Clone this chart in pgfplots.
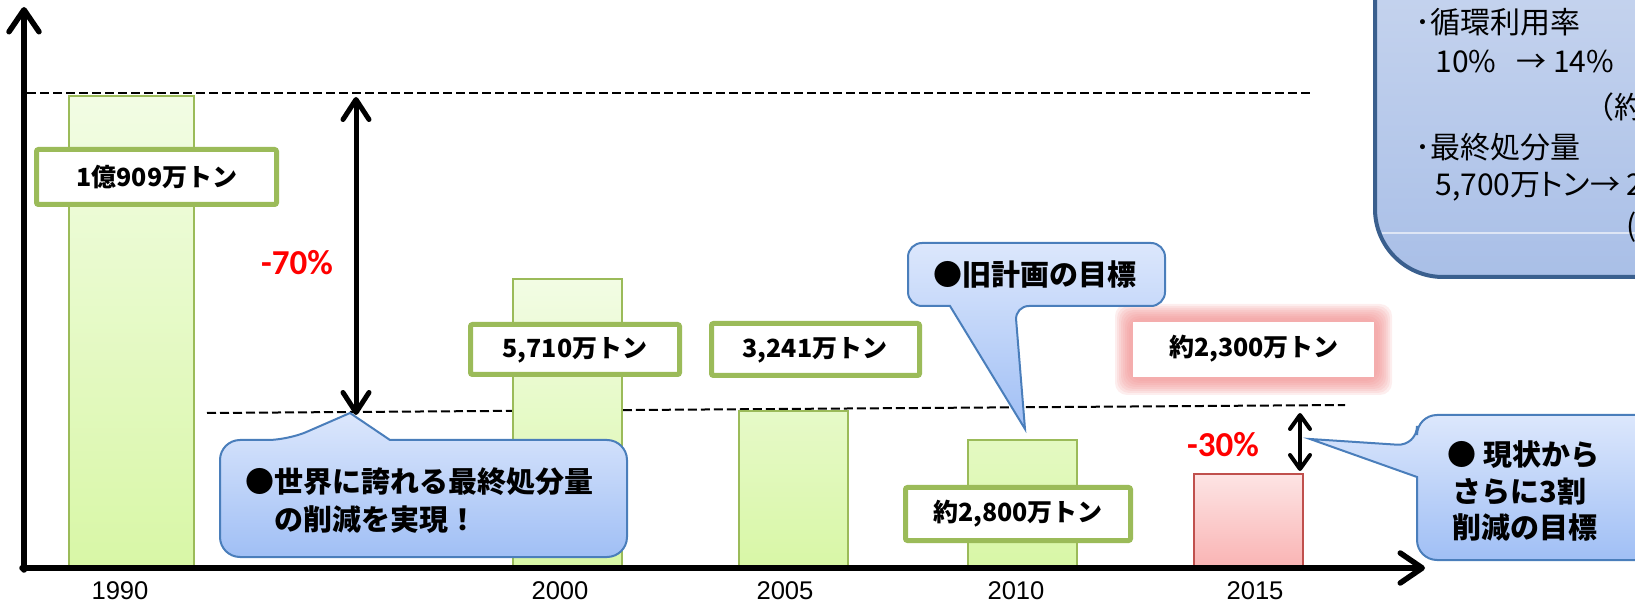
\documentclass[border=0pt]{standalone}
\usepackage{pgfplots}
\pgfplotsset{compat=1.18}
\usepackage{fontspec}
\setmainfont{Noto Sans CJK JP}
\newfontfamily\jpp{Noto Sans CJK JP}[RawFeature=+palt]
\newfontfamily\arialf{Liberation Sans}
\newfontfamily\calf{Carlito}
\usetikzlibrary{arrows.meta}

\definecolor{gborder}{HTML}{9BBB59}
\definecolor{gtop}{HTML}{F2FCE4}
\definecolor{gbot}{HTML}{D8F7A6}
\definecolor{rborder}{HTML}{C0504D}
\definecolor{rtop}{HTML}{FDE4E4}
\definecolor{rbot}{HTML}{F9B3B3}
\definecolor{ctop}{HTML}{DCE7FC}
\definecolor{cbot}{HTML}{A0BFF5}
\definecolor{cborder}{HTML}{4A7EBB}
\definecolor{btop}{HTML}{CDD9F0}
\definecolor{bbot}{HTML}{A9BFE7}
\definecolor{bborder}{HTML}{3A5F8E}
\definecolor{glow}{HTML}{F08A8A}
\definecolor{pctred}{HTML}{FF0000}

\begin{document}
\begin{tikzpicture}
\useasboundingbox (0pt,0pt) rectangle (817.5pt,-302pt);
\begin{scope}[x=0.5pt,y=-0.5pt]
% reference dashed lines (behind bars)
\draw[line width=1pt, dash pattern=on 4.5pt off 2pt] (27,93) -- (1312,93);
\draw[line width=1pt, dash pattern=on 4.5pt off 2pt] (207,413) -- (1345,405);
\end{scope}

\begin{axis}[at={(0pt,-302pt)}, anchor=south west, scale only axis,
  width=817.5pt, height=302pt,
  xmin=0, xmax=1635, ymin=-807.2, ymax=13122.8,
  axis line style={draw=none}, tick style={draw=none},
  ytick=\empty,
  xtick={120,560,785,1016,1255},
  xticklabels={1990,2000,2005,2010,2015},
  xticklabel style={anchor=center, yshift=6.5pt, font=\arialf\fontsize{12.8pt}{14pt}\selectfont},
  clip=false]
\addplot[ybar, bar width=62.5pt, bar shift=0pt, draw=gborder, line width=1pt,
  top color=gtop, bottom color=gbot] coordinates {(131.5,10909)};
\addplot[ybar, bar width=54.5pt, bar shift=0pt, draw=gborder, line width=1pt,
  top color=gtop, bottom color=gbot] coordinates {(567.5,6688) (793,3644) (1022.5,2975)};
\addplot[ybar, bar width=54.5pt, bar shift=0pt, draw=rborder, line width=1pt,
  top color=rtop, bottom color=rbot] coordinates {(1248.5,2191)};
\end{axis}

\begin{scope}[x=0.5pt,y=-0.5pt]
% value label boxes
\tikzset{lbl/.style={draw=gborder, line width=2.5pt, fill=white, rounded corners=1pt},
         lt/.style={font=\bfseries\fontsize{12.5pt}{14pt}\selectfont, inner sep=0pt}}
\path[lbl] (36.5,149.5) rectangle (276.5,204.5);
\node[lt] at (157,177) {1億909万トン};
\path[lbl] (470.5,324.5) rectangle (679.5,374.5);
\node[lt] at (575,350) {5,710万トン};
\path[lbl] (711.5,323.5) rectangle (919.5,375.5);
\node[lt] at (815,350) {3,241万トン};
\path[lbl] (905.5,487.5) rectangle (1130.5,540.5);
\node[lt] at (1018,514) {約2,800万トン};
% glowing target label
\foreach \d in {18,16,14,12,10,8,6,4}{
  \fill[glow, opacity=0.14, rounded corners=6pt] (1133-\d,322-\d) rectangle (1374+\d,377+\d);
}
\fill[white] (1133,322) rectangle (1374,377);
\node[lt] at (1254,349) {約2,300万トン};

% axes
\draw[line width=2.75pt, line cap=round, -{Straight Barb[length=11pt,width=15pt,round]}] (24,570) -- (24,7);
\draw[line width=2.75pt, line cap=round, -{Straight Barb[length=11pt,width=15pt,round]}] (22,568) -- (1425,568);

% big double arrow
\draw[line width=2.5pt, {Straight Barb[length=10pt,width=13pt,round]}-{Straight Barb[length=10pt,width=13pt,round]}] (356,97) -- (356,415);
\node[font=\calf\bfseries\fontsize{17.5pt}{20pt}\selectfont, text=pctred, inner sep=0pt] at (297,263) {-70\%};
% small double arrow
\draw[line width=2pt, {Straight Barb[length=7pt,width=10pt,round]}-{Straight Barb[length=7pt,width=10pt,round]}] (1300,413) -- (1300,471);
\node[font=\calf\bfseries\fontsize{17.5pt}{20pt}\selectfont, text=pctred, inner sep=0pt] at (1223,445) {-30\%};

% callouts
\tikzset{co/.style={draw=cborder, line width=1pt, top color=ctop, bottom color=cbot},
         ct/.style={font=\bfseries\fontsize{14.5pt}{17pt}\selectfont, inner sep=0pt, anchor=west}}
\path[co] (220,500) [rounded corners=10pt] -- (220,440) -- (288,440) [sharp corners] -- (350,413) -- (390,440) [rounded corners=10pt] -- (627,440) -- (627,557) -- (220,557) -- cycle;
\node[ct] at (245,482) {●世界に誇れる最終処分量};
\node[ct] at (245,520) {　の削減を実現！};

\path[co] (908,270) [rounded corners=7pt] -- (908,243) -- (1165,243) -- (1165,306) -- (1015,306) [sharp corners] -- (1025,429) -- (950,306) [rounded corners=7pt] -- (908,306) -- cycle;
\node[ct, anchor=center] at (1035,275) {●旧計画の目標};

\begin{scope}
\clip (0,0) rectangle (1635,604);
\path[co] (1660,415) [rounded corners=10pt] -- (1417,415) -- (1417,446) [sharp corners] -- (1310,439) -- (1417,477) [rounded corners=10pt] -- (1417,560) -- (1660,560) -- cycle;
\node[ct] at (1447,455) {● 現状から};
\node[ct] at (1452,492) {さらに3割};
\node[ct] at (1452,527) {削減の目標};

% top right box
\path[draw=bborder, line width=2pt, top color=btop, bottom color=bbot] (1700,-100) [rounded corners=34pt] -- (1375,-100) -- (1375,277) -- (1700,277) -- cycle;
\draw[white, opacity=0.6, line width=1pt] (1382,233) -- (1640,233);
\tikzset{bt/.style={font=\fontsize{15pt}{18pt}\selectfont, inner sep=0pt, anchor=west}}
\node[bt] at (1415,22) {･循環利用率};
\node[bt] at (1435,62) {10\%\ \ \ → 14\%};
\node[bt] at (1584,107) {（約1.4倍）};
\node[bt] at (1415,147) {･最終処分量};
\node[bt, font=\jpp\fontsize{15pt}{18pt}\selectfont] at (1435,187) {5,700万トン→ 2,300万トン};
\node[bt] at (1626,227) {(約6割減)};
\end{scope}
\end{scope}
\end{tikzpicture}
\end{document}
